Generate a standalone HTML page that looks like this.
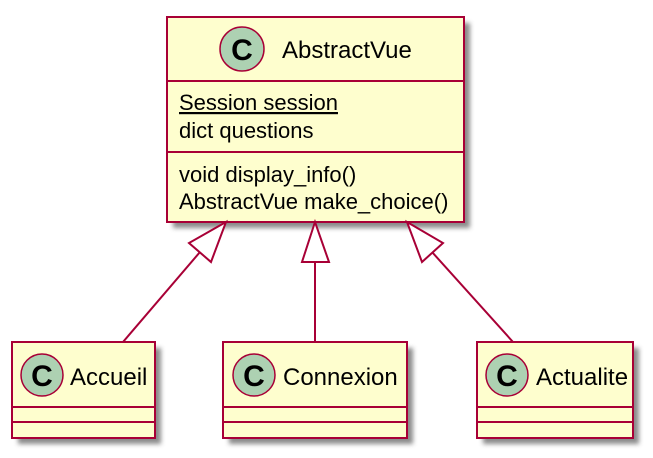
<!DOCTYPE html>
<html><head><meta charset="utf-8"><style>
html,body{margin:0;padding:0;background:#fff;}
svg{display:block;}
text{font-family:"Liberation Sans",Arial,sans-serif;fill:#000;}
</style></head><body>
<svg width="653" height="458" viewBox="0 0 653 458" xmlns="http://www.w3.org/2000/svg">
<defs>
<filter id="sh" x="-10%" y="-10%" width="130%" height="130%">
<feGaussianBlur stdDeviation="2.5"/>
</filter>
</defs>
<g fill="#777" opacity="0.85" filter="url(#sh)">
<rect x="173" y="23" width="297" height="205"/>
<rect x="18" y="348" width="143" height="96"/>
<rect x="229" y="348" width="184" height="96"/>
<rect x="483" y="348" width="156" height="96"/>
</g>
<g stroke="#A80036" stroke-width="2" fill="#FEFECE">
<rect x="167" y="17" width="297" height="205"/>
<line x1="167" y1="81" x2="464" y2="81"/>
<line x1="167" y1="152" x2="464" y2="152"/>
<rect x="12" y="342" width="143" height="96"/>
<line x1="12" y1="407" x2="155" y2="407"/>
<line x1="12" y1="422" x2="155" y2="422"/>
<rect x="223" y="342" width="184" height="96"/>
<line x1="223" y1="407" x2="407" y2="407"/>
<line x1="223" y1="422" x2="407" y2="422"/>
<rect x="477" y="342" width="156" height="96"/>
<line x1="477" y1="407" x2="633" y2="407"/>
<line x1="477" y1="422" x2="633" y2="422"/>
</g>
<g fill="#ADD1B2" stroke="#A80036" stroke-width="1.5">
<circle cx="242" cy="49" r="22"/>
<circle cx="42" cy="375" r="21"/>
<circle cx="254" cy="375" r="21"/>
<circle cx="507" cy="375" r="21"/>
</g>
<g font-size="30" font-weight="bold" text-anchor="middle">
<text x="242" y="60">C</text>
<text x="42" y="386">C</text>
<text x="254" y="386">C</text>
<text x="507" y="386">C</text>
</g>
<g font-size="24">
<text x="282" y="58">AbstractVue</text>
<text x="70" y="385">Accueil</text>
<text x="283" y="385">Connexion</text>
<text x="536" y="385">Actualite</text>
</g>
<g font-size="22">
<text x="179" y="110" text-decoration="underline">Session session</text>
<text x="179" y="138">dict questions</text>
<text x="179" y="182">void display_info()</text>
<text x="179" y="209">AbstractVue make_choice()</text>
</g>
<g stroke="#A80036" stroke-width="2" fill="none">
<line x1="200" y1="252" x2="123" y2="342"/>
<polygon points="226,222 189,243 211,262" fill="#fff"/>
<line x1="315" y1="262" x2="315" y2="342"/>
<polygon points="315,222 302,262 329,262" fill="#fff"/>
<line x1="432" y1="252" x2="513" y2="342"/>
<polygon points="407,222 443,243 422,262" fill="#fff"/>
</g>
</svg>
</body></html>
